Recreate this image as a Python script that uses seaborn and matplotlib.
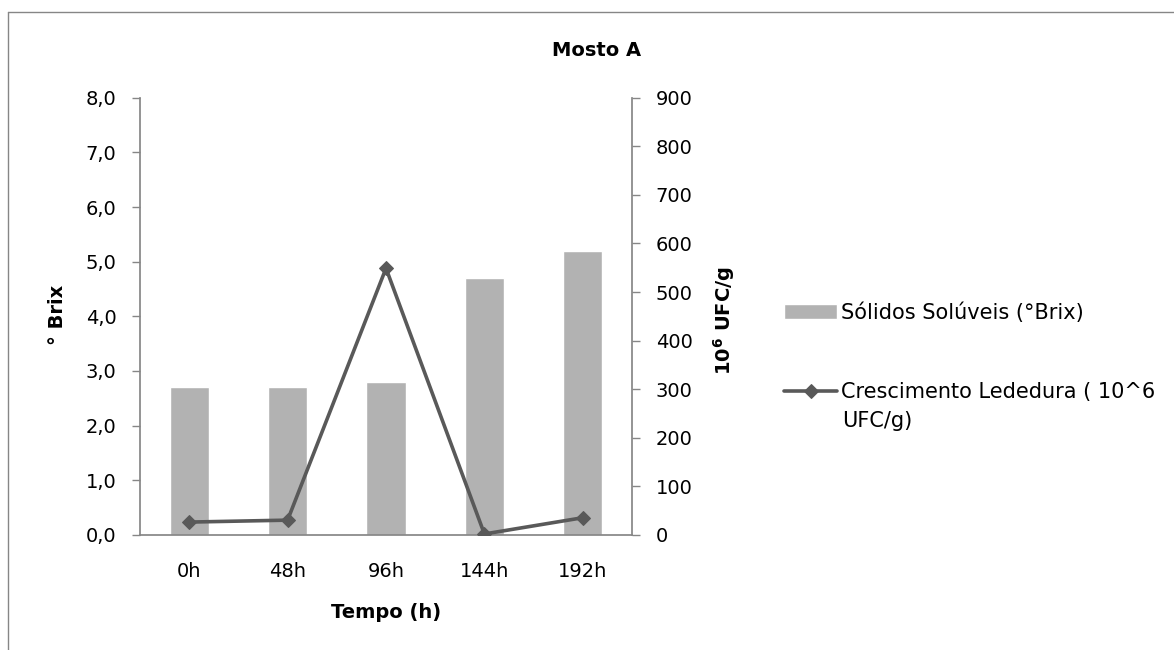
import numpy as np
import pandas as pd
import matplotlib
matplotlib.use("Agg")
import matplotlib.pyplot as plt
from matplotlib.ticker import FuncFormatter, FixedLocator, MultipleLocator
from matplotlib.lines import Line2D
import seaborn as sns

# ---- data ----
times = ["0h", "48h", "96h", "144h", "192h"]
brix = [2.7, 2.7, 2.8, 4.7, 5.2]
yeast = [26, 30, 549, 1.5, 35]

bar_label = "Sólidos Solúveis (°Brix)"
line_label = "Crescimento Lededura ( 10^6"
line_label_cont = "UFC/g)"

sns.set_theme(style="white")
FONT = "DejaVu Sans"
plt.rcParams["font.family"] = [FONT]
plt.rcParams["mathtext.fontset"] = "dejavusans"
plt.rcParams["text.color"] = "black"
plt.rcParams["axes.labelcolor"] = "black"

BAR_C = "#b2b2b2"
LINE_C = "#595959"
AX_C = "#868686"
FS = 14
LFS = 15

df = pd.DataFrame({"t": times, "brix": brix, "yeast": yeast})

fig = plt.figure(figsize=(11.74, 6.5), dpi=100)
ax = fig.add_axes([140/1174, 1-534.7/650, (632-140)/1174, (534.7-97.9)/650])
sns.barplot(data=df, x="t", y="brix", color=BAR_C, width=0.4, ax=ax,
            saturation=1, label=bar_label)
if ax.get_legend() is not None:
    ax.get_legend().remove()
ax.set_xlim(-0.5, 4.5)
ax.set_ylim(0, 8)
ax.yaxis.set_major_locator(MultipleLocator(1))
ax.yaxis.set_major_formatter(FuncFormatter(lambda v, p: f"{v:.1f}".replace(".", ",")))

ax2 = ax.twinx()
sns.lineplot(data=df, x="t", y="yeast", ax=ax2, color=LINE_C, lw=2.6,
             marker="D", markersize=7, markeredgecolor=LINE_C, label=line_label,
             legend=False)
ax2.set_ylim(0, 900)
ax2.yaxis.set_major_locator(MultipleLocator(100))
ax2.set_xlim(-0.5, 4.5)

for a in (ax, ax2):
    for s in a.spines.values():
        s.set_visible(False)
    a.set_xlabel("")
    a.set_ylabel("")
    a.tick_params(axis="y", labelsize=FS, colors="black", length=6, width=1,
                  color=AX_C, direction="out", pad=11)
    a.grid(False)
ax.spines["left"].set_visible(True)
ax.spines["left"].set_color(AX_C)
ax.spines["bottom"].set_visible(True)
ax.spines["bottom"].set_color(AX_C)
ax2.spines["right"].set_visible(True)
ax2.spines["right"].set_color(AX_C)

ax.xaxis.set_minor_locator(FixedLocator([-0.5, 0.5, 1.5, 2.5, 3.5, 4.5]))
ax.tick_params(axis="x", which="major", length=0, labelsize=FS, pad=20, colors="black")
ax.tick_params(axis="x", which="minor", length=6, width=1, color=AX_C, direction="out")

ax.set_xlabel("Tempo (h)", fontsize=FS, fontweight="bold", va="center")
ax.xaxis.set_label_coords(0.5, -0.177)
ax.set_ylabel("° Brix", fontsize=FS, fontweight="bold", va="center")
ax.yaxis.set_label_coords(-0.167, 0.503)
ax2.set_ylabel(r"$\mathbf{10^{6}}$ UFC/g", fontsize=FS, fontweight="bold", va="center")
ax2.yaxis.set_label_coords(1.187, 0.49)

fig.text(597/1174, 1-51/650, "Mosto A", ha="center", va="center",
         fontsize=FS, fontweight="bold")

h1, l1 = ax.get_legend_handles_labels()
h2, l2 = ax2.get_legend_handles_labels()
leg = fig.legend(h1 + h2, l1 + l2, loc="center left",
                 bbox_to_anchor=(784/1174, 1-352.5/650),
                 frameon=False, fontsize=LFS, handlelength=2.55, labelspacing=2.85,
                 handletextpad=0.2, borderpad=0, borderaxespad=0)
fig.text(842/1174, 1-421/650, line_label_cont, ha="left", va="center", fontsize=LFS)

# chart-area border (top and left edges visible)
fig.add_artist(Line2D([8/1174, 1], [1-12/650, 1-12/650], transform=fig.transFigure,
                      color=AX_C, lw=1))
fig.add_artist(Line2D([8/1174, 8/1174], [0, 1-12/650], transform=fig.transFigure,
                      color=AX_C, lw=1))

fig.savefig("out.png", dpi=100)
